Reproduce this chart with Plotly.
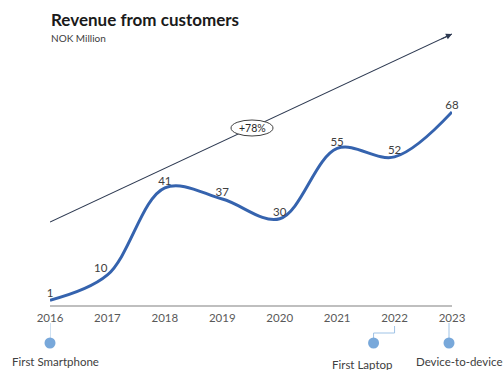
import plotly.graph_objects as go

# Revenue series (NOK million)
years = [2016, 2017, 2018, 2019, 2020, 2021, 2022, 2023]
revenue = [1, 10, 41, 37, 30, 55, 52, 68]
label_pos = ["top center", "top left", "top center", "top center",
             "top center", "top center", "top center", "top center"]

# Product milestones shown under the time axis
milestone_names = ["First Smartphone", "First Laptop", "Device-to-device"]
milestone_years = [2016, 2022, 2023]
growth_text = "+78%"

FONT = "Lato"
LINE_BLUE = "#3563ae"
DOT_BLUE = "#78a8da"
LEAD_BLUE = "#9fc3e6"
ARROW = "#2e3a52"

W, H = 503, 370
ML, MR, MT, MB = 50, 51, 22, 0
PLOT_W, PLOT_H = W - ML - MR, H - MT - MB
Y_TOP = 100.0
PX_Y = 2.81                                  # pixels per NOK million
Y_BOT = Y_TOP - PLOT_H / PX_Y                # extends below zero for the milestone row
PX_X = PLOT_W / 7.0                          # pixels per year


def py_to_y(py):
    """figure pixel row -> data y"""
    return Y_TOP - (py - MT) / PX_Y


def px_to_paper(px):
    return (px - ML) / PLOT_W


def py_to_paper(py):
    return (H - MB - py) / PLOT_H


fig = go.Figure()

fig.add_trace(go.Scatter(
    x=years, y=revenue,
    mode="lines+text",
    line=dict(color=LINE_BLUE, width=3, shape="spline", smoothing=1.0),
    text=[str(v) for v in revenue],
    textposition=label_pos,
    textfont=dict(family=FONT, size=11.5, color="#404040"),
    cliponaxis=False,
    hoverinfo="skip",
    showlegend=False,
))

# Milestone dots: the laptop marker is nudged left so its caption clears the next one
dot_shift_px = [0, -21, -3]
dot_y = py_to_y(343)
dot_x = [yr + s / PX_X for yr, s in zip(milestone_years, dot_shift_px)]
fig.add_trace(go.Scatter(
    x=dot_x, y=[dot_y] * len(dot_x),
    mode="markers",
    marker=dict(color=DOT_BLUE, size=11),
    cliponaxis=False,
    hoverinfo="skip",
    showlegend=False,
))

shapes = []


def lead(x0, py0, x1, py1):
    shapes.append(dict(type="line", xref="x", yref="y", x0=x0, y0=py_to_y(py0),
                       x1=x1, y1=py_to_y(py1), line=dict(color=LEAD_BLUE, width=1),
                       layer="below"))


# leader lines from year labels down to the dots
lead(dot_x[0], 323, dot_x[0], 338)
lead(milestone_years[1], 326, milestone_years[1], 333)
lead(milestone_years[1], 333, dot_x[1], 333)
lead(dot_x[1], 333, dot_x[1], 338)
lead(dot_x[2], 323, dot_x[2], 338)

# trend arrow: shaft as a shape so the ellipse can sit on top of it
ax0, ay0 = 2016, py_to_y(222)
ax1, ay1 = 2023, py_to_y(34)
shapes.append(dict(type="line", xref="x", yref="y", x0=ax0, y0=ay0, x1=ax1, y1=ay1,
                   line=dict(color=ARROW, width=1.1), layer="below"))

# ellipse holding the growth figure on the trend arrow
cx, cy = 2016 + 202 / PX_X, py_to_y(128)
shapes.append(dict(type="circle", xref="x", yref="y",
                   x0=cx - 21 / PX_X, x1=cx + 21 / PX_X,
                   y0=cy - 8 / PX_Y, y1=cy + 8 / PX_Y,
                   line=dict(color="#404040", width=1), fillcolor="white", layer="above"))

annotations = []
# arrowhead at the end of the trend shaft
t = 0.97
annotations.append(dict(
    x=ax1, y=ay1, ax=ax0 + t * (ax1 - ax0), ay=ay0 + t * (ay1 - ay0),
    xref="x", yref="y", axref="x", ayref="y",
    text="", showarrow=True, arrowhead=2, arrowsize=1.1, arrowwidth=1.1,
    arrowcolor=ARROW))
annotations.append(dict(
    x=cx, y=cy, xref="x", yref="y", text=growth_text, showarrow=False,
    font=dict(family=FONT, size=10.5, color="#262626")))

caption_px = [(55, 361), (362, 364), (459, 361)]
for name, (px, py) in zip(milestone_names, caption_px):
    annotations.append(dict(
        x=px_to_paper(px), y=py_to_paper(py), xref="paper", yref="paper",
        xanchor="center", yanchor="middle", text=name, showarrow=False,
        font=dict(family=FONT, size=11.5, color="#404040")))

annotations.append(dict(
    x=px_to_paper(49), y=py_to_paper(20), xref="paper", yref="paper",
    xanchor="left", yanchor="middle",
    text="<b>Revenue from customers</b>", showarrow=False,
    font=dict(family=FONT, size=17, color="#1a1a1a")))
annotations.append(dict(
    x=px_to_paper(49), y=py_to_paper(38), xref="paper", yref="paper",
    xanchor="left", yanchor="middle",
    text="NOK Million", showarrow=False,
    font=dict(family=FONT, size=10, color="#404040")))

fig.update_layout(
    width=W, height=H,
    margin=dict(l=ML, r=MR, t=MT, b=MB),
    paper_bgcolor="white", plot_bgcolor="white",
    shapes=shapes, annotations=annotations,
    xaxis=dict(range=[2016, 2023], tickmode="array", tickvals=years,
               ticktext=[str(y) for y in years], showgrid=False, zeroline=False,
               anchor="free", position=(0 - Y_BOT) / (Y_TOP - Y_BOT) - 3 / PLOT_H,
               showline=True, linecolor="#bfbfbf", linewidth=2, ticks="",
               ticklabelstandoff=1,
               tickfont=dict(family=FONT, size=11.5, color="#595959")),
    yaxis=dict(range=[Y_BOT, Y_TOP], visible=False, showgrid=False, zeroline=False),
)

fig.write_html("out.html")
